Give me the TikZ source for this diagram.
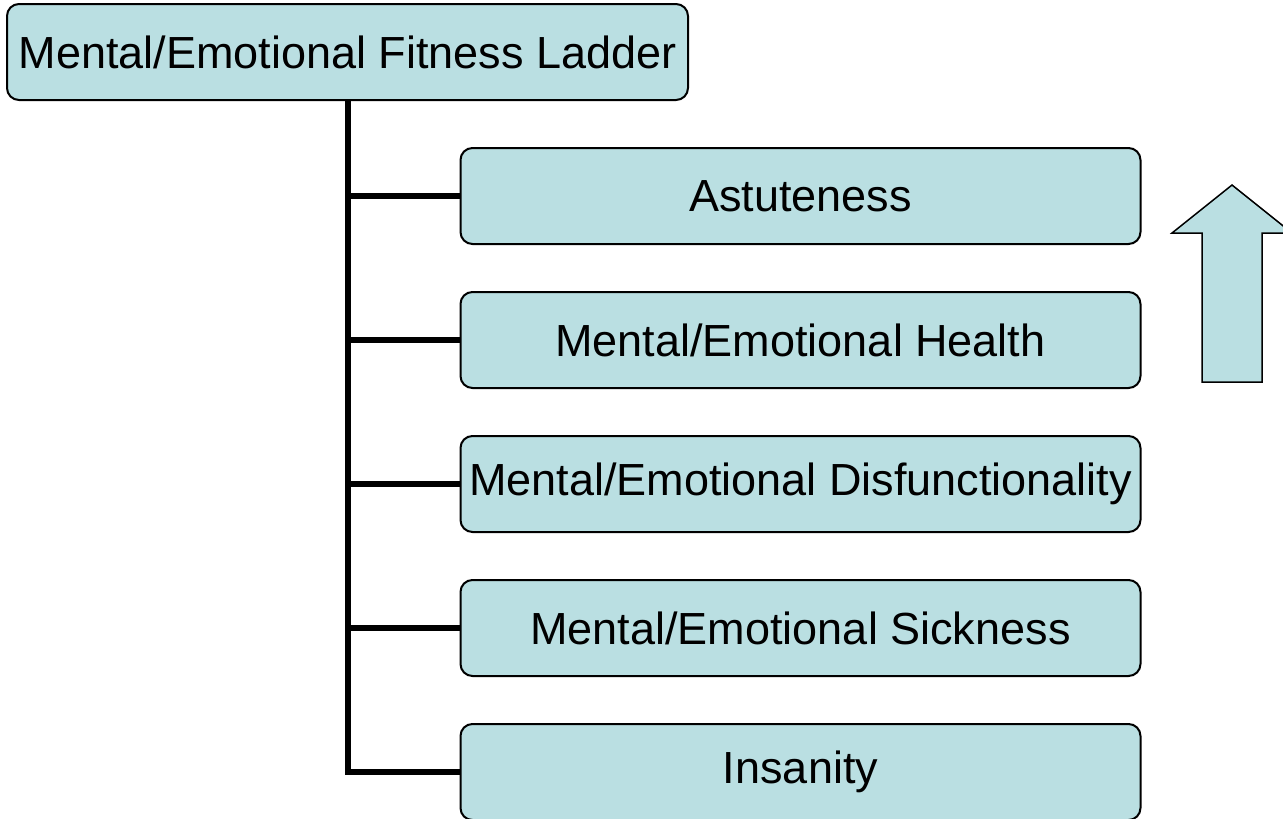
\documentclass[tikz,border=0pt]{standalone}
\usepackage{fontspec}
\setmainfont{Liberation Sans}
\usepackage{tikz}
\usetikzlibrary{positioning}
\definecolor{ladderfill}{HTML}{BADFE2}
\tikzstyle{rung} = [rectangle, rounded corners=12pt, minimum width=680pt, minimum height=96pt, inner sep=1pt, text centered, draw=black, line width=2pt, fill=ladderfill, font=\fontsize{45}{54}\selectfont]
\tikzstyle{bar} = [line width=6pt, draw=black]

\begin{document}
\begin{tikzpicture}[x=1pt, y=-1pt, node distance=144pt]
\clip (0,0) rectangle (1283,819);
\useasboundingbox (0,0) rectangle (1283,819);
\node (ladder) [rung, minimum width=681pt] at (347.5,52) {Mental/Emotional Fitness Ladder};
\node (astute) [rung] at (800.5,196) {Astuteness};
\node (health) [rung, below of=astute] {Mental/Emotional Health};
\node (disfunc) [rung, below of=health] {Mental/Emotional Disfunctionality};
\node (sick) [rung, below of=disfunc] {Mental/Emotional Sickness};
\node (insane) [rung, below of=sick] {Insanity};

\draw [bar] (ladder.south) ++(0.5,0) coordinate (trunk) |- (insane.west);
\foreach \n in {astute,health,disfunc,sick}
  \draw [bar] (trunk |- \n.west) -- (\n.west);

% up arrow on the right
\draw [fill=ladderfill, line width=1.5pt, line join=miter]
  (1202,382) -- (1202,233) -- (1172,233) -- (1232,185) -- (1292,233)
  -- (1262,233) -- (1262,382) -- cycle;
\end{tikzpicture}
\end{document}
